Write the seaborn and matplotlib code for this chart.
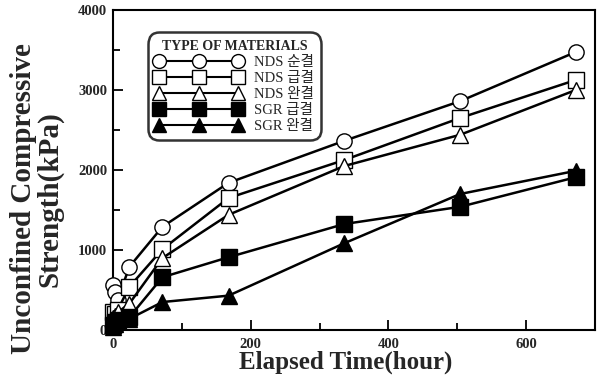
import matplotlib
matplotlib.use("Agg")
import matplotlib.pyplot as plt
import seaborn as sns
import numpy as np
import pandas as pd
from matplotlib.ticker import MultipleLocator

# ---- data ----
times = [0, 3, 7, 24, 72, 168, 336, 504, 672]
nds_sun = [560, 470, 380, 790, 1290, 1840, 2365, 2860, 3475]
nds_geup = [230, 200, 250, 540, 1010, 1650, 2125, 2650, 3125]
nds_wan = [150, 180, 220, 330, 900, 1440, 2050, 2440, 3000]
sgr_geup = [60, 100, 130, 160, 660, 910, 1325, 1540, 1910]
sgr_wan = [40, 80, 110, 140, 350, 430, 1085, 1700, 1990]

series_labels = ["NDS 순결", "NDS 급결", "NDS 완결", "SGR 급결", "SGR 완결"]
series_values = [nds_sun, nds_geup, nds_wan, sgr_geup, sgr_wan]
markers = ["o", "s", "^", "s", "^"]
facecolors = ["white", "white", "white", "black", "black"]

x_ticks = [0, 200, 400, 600]
y_ticks = [0, 1000, 2000, 3000, 4000]

sns.set_theme(style="white")
serif = ["Liberation Serif", "Noto Sans CJK KR", "DejaVu Sans"]
plt.rcParams["font.family"] = serif

fig = plt.figure(figsize=(6, 3.82), dpi=100)
ax = fig.add_axes([0.188, 0.136, 0.804, 0.838])

for lab, vals, m, fc in zip(series_labels, series_values, markers, facecolors):
    df = pd.DataFrame({"t": times, "v": vals})
    sns.lineplot(data=df, x="t", y="v", ax=ax, color="black", linewidth=1.8,
                 marker=m, markersize=11,
                 markerfacecolor=fc, markeredgecolor="black", markeredgewidth=1.0,
                 label=lab, legend=False, zorder=3)

for ln in ax.get_lines():
    ln.set_clip_on(False)
handles = ax.get_lines()

ax.set_xlim(0, 700)
ax.set_ylim(0, 4000)
ax.set_xticks(x_ticks)
ax.set_yticks(y_ticks)
ax.xaxis.set_minor_locator(MultipleLocator(100))
ax.yaxis.set_minor_locator(MultipleLocator(500))
ax.tick_params(which="both", direction="in", color="black", width=1.3,
               bottom=True, left=True, top=False, right=False)
ax.tick_params(which="major", length=7.2)
ax.tick_params(which="minor", length=5)
ax.tick_params(axis="x", which="major", pad=5.5)
ax.tick_params(axis="y", which="major", pad=4)
ax.set_xticklabels([str(v) for v in x_ticks], fontweight="bold", family=serif, fontsize=10.5)
ax.set_yticklabels([str(v) for v in y_ticks], fontweight="bold", family=serif, fontsize=10.5)
for sp in ax.spines.values():
    sp.set_color("black")
    sp.set_linewidth(1.5)

ax.set_xlabel("Elapsed Time(hour)", fontsize=18, fontweight="bold", family=serif)
ax.xaxis.set_label_coords(0.483, -0.063, transform=ax.transAxes)
ax.xaxis.label.set_va("top")
ax.set_ylabel("Unconfined Compressive\nStrength(kPa)", fontsize=21, fontweight="bold",
              family=serif, linespacing=0.92)
ax.yaxis.set_label_coords(-0.103, 0.41, transform=ax.transAxes)
ax.yaxis.label.set_va("bottom")

leg = ax.legend(handles=handles, labels=series_labels, title="TYPE OF MATERIALS",
                loc="upper left", bbox_to_anchor=(0.063, 0.944), numpoints=3,
                handlelength=6.0, frameon=True,
                fancybox=True, borderpad=0.3, labelspacing=0.2, handletextpad=0.8,
                prop={"family": serif, "size": 10.5})
leg.get_title().set_fontweight("bold")
leg.get_title().set_family(serif)
leg.get_title().set_fontsize(10)
fr = leg.get_frame()
fr.set_edgecolor("black")
fr.set_linewidth(1.8)
fr.set_boxstyle("round,pad=0.2,rounding_size=0.8")
for h in leg.legend_handles:
    h.set_markersize(10)
    h.set_linewidth(1.5)

fig.savefig("out.png", dpi=100)
